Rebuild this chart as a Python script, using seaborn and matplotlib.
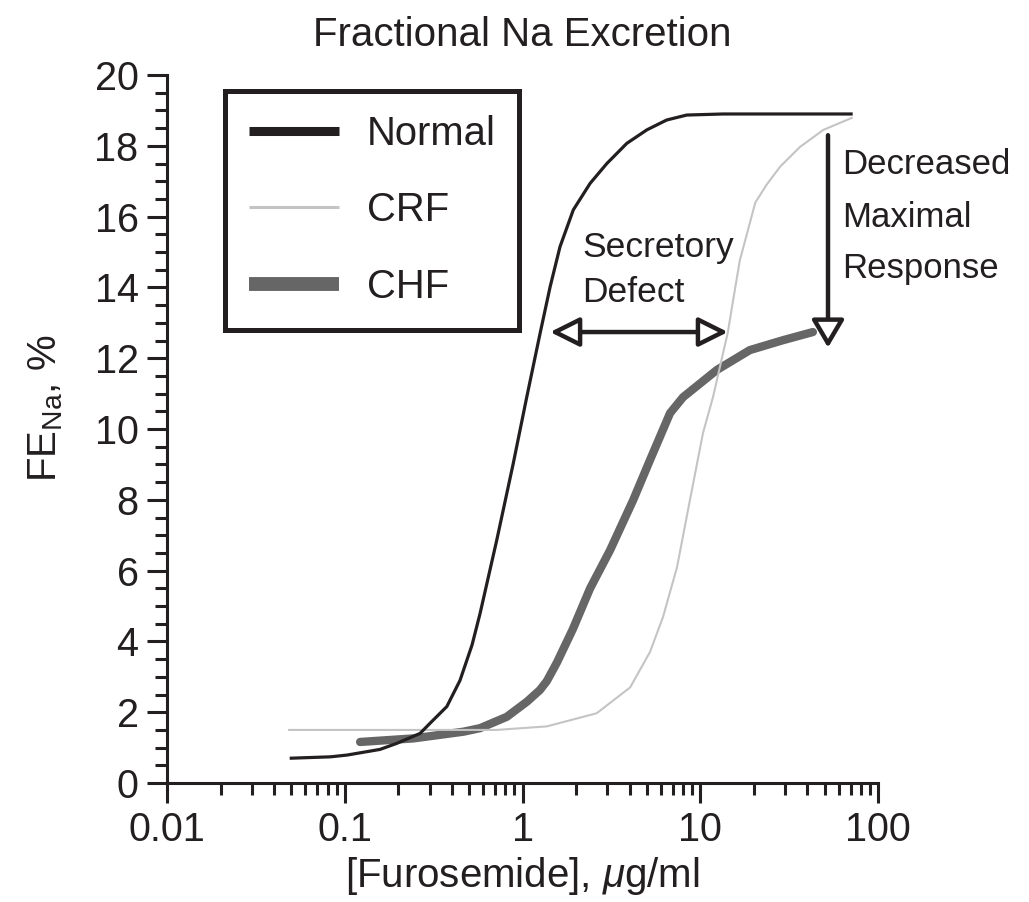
import matplotlib
matplotlib.use("Agg")
import matplotlib.pyplot as plt
from matplotlib.ticker import MultipleLocator, FixedLocator, LogLocator, NullFormatter
import pandas as pd
import seaborn as sns

# Furosemide concentration (ug/ml) vs fractional Na excretion (%)
normal_conc = [0.049, 0.083, 0.103, 0.158, 0.196, 0.265, 0.302, 0.375, 0.445, 0.52,
               0.577, 0.716, 0.887, 1.056, 1.255, 1.43, 1.625, 1.93, 2.40, 2.98,
               3.86, 5.0, 6.47, 8.39, 13.4, 72.0]
normal_fe = [0.70, 0.74, 0.79, 0.95, 1.12, 1.40, 1.69, 2.16, 2.90, 3.90,
             4.79, 6.86, 9.03, 10.90, 12.70, 14.02, 15.15, 16.19, 16.94, 17.50,
             18.07, 18.45, 18.73, 18.87, 18.90, 18.90]

crf_conc = [0.048, 0.25, 0.715, 1.37, 2.61, 4.03, 5.21, 6.17, 7.4, 8.75,
            10.36, 11.8, 12.9, 14.3, 15.3, 16.7, 20.4, 23.6, 28.1, 36.4,
            49.2, 72.0]
crf_fe = [1.50, 1.50, 1.50, 1.60, 1.97, 2.70, 3.70, 4.69, 6.10, 8.00,
          9.89, 10.91, 11.76, 12.74, 13.64, 14.77, 16.40, 16.90, 17.41, 17.97,
          18.45, 18.80]

chf_conc = [0.122, 0.243, 0.465, 0.577, 0.815, 1.06, 1.254, 1.37, 1.56, 1.92,
            2.40, 3.11, 4.19, 5.21, 6.76, 8.0, 12.4, 19.0, 29.2, 43.0]
chf_fe = [1.16, 1.26, 1.45, 1.55, 1.87, 2.30, 2.63, 2.88, 3.40, 4.35,
          5.50, 6.58, 7.99, 9.12, 10.45, 10.90, 11.67, 12.23, 12.51, 12.74]

series_names = ["Normal", "CRF", "CHF"]

# annotation anchors (data units)
secretory_y = 12.74
secretory_left = 1.43
secretory_right = 14.3
max_resp_x = 52.3
max_resp_top = 18.3
max_resp_tip = 12.3

df = pd.concat([
    pd.DataFrame({"conc": normal_conc, "fe": normal_fe, "group": "Normal"}),
    pd.DataFrame({"conc": crf_conc, "fe": crf_fe, "group": "CRF"}),
    pd.DataFrame({"conc": chf_conc, "fe": chf_fe, "group": "CHF"}),
], ignore_index=True)

sns.set_style("ticks")
plt.rcParams["font.family"] = ["Liberation Sans", "DejaVu Sans"]
plt.rcParams["mathtext.fontset"] = "custom"
plt.rcParams["mathtext.rm"] = "Liberation Sans"
plt.rcParams["mathtext.it"] = "Liberation Sans:italic"
plt.rcParams["mathtext.default"] = "regular"

INK = "#231f20"
styles = {
    "CHF": dict(color="#666666", linewidth=6.0, solid_capstyle="round",
                solid_joinstyle="round"),
    "CRF": dict(color="#c4c4c4", linewidth=1.5, solid_capstyle="butt",
                solid_joinstyle="round"),
    "Normal": dict(color=INK, linewidth=2.3, solid_capstyle="butt",
                   solid_joinstyle="round"),
}

fig = plt.figure(figsize=(10.29, 9.02), dpi=100)
ax = fig.add_axes([0.1623, 0.1319, 0.6910, 0.7849])

lines = {}
for name in ["CHF", "CRF", "Normal"]:
    sub = df[df["group"] == name]
    sns.lineplot(data=sub, x="conc", y="fe", ax=ax, estimator=None, sort=False,
                 label=name, **styles[name])
    lines[name] = ax.get_lines()[-1]

ax.set_xscale("log")
ax.set_xlim(0.01, 100)
ax.set_ylim(0, 20)

ax.xaxis.set_major_locator(FixedLocator([0.01, 0.1, 1, 10, 100]))
ax.set_xticklabels(["0.01", "0.1", "1", "10", "100"])
ax.xaxis.set_minor_locator(LogLocator(base=10, subs=range(2, 10), numticks=20))
ax.xaxis.set_minor_formatter(NullFormatter())
ax.yaxis.set_major_locator(MultipleLocator(2))
ax.yaxis.set_minor_locator(MultipleLocator(0.5))

for side in ["top", "right"]:
    ax.spines[side].set_visible(False)
for side in ["left", "bottom"]:
    ax.spines[side].set_linewidth(2.2)
    ax.spines[side].set_color(INK)

ax.tick_params(which="major", direction="out", length=14.5, width=2.2,
               color=INK, labelsize=28.5, pad=6, labelcolor=INK)
ax.tick_params(which="minor", direction="out", length=8.6, width=2.2, color=INK)

ax.set_title("Fractional Na Excretion", fontsize=29, pad=21, color=INK)
ax.set_xlabel("[Furosemide], $\\mathit{\\mu}$g/ml", fontsize=29, color=INK, labelpad=4)
ax.set_ylabel("FE$_{Na}$, %", fontsize=29, color=INK)
ax.yaxis.set_label_coords(-0.143, 0.53)

# legend ordered Normal, CRF, CHF with heavier handle strokes
handles = [lines[n] for n in series_names]
leg = ax.legend(handles, series_names, loc="upper left",
                bbox_to_anchor=(0.0809, 0.978), borderaxespad=0,
                fontsize=28.8, handlelength=2.25, handletextpad=0.7,
                labelspacing=0.97, borderpad=0.6, frameon=True,
                fancybox=False, framealpha=1)
leg.get_frame().set_edgecolor(INK)
leg.get_frame().set_linewidth(3.6)
for txt in leg.get_texts():
    txt.set_color(INK)
handle_widths = {"Normal": 6.5, "CRF": 2.2, "CHF": 10.0}
for ln, name in zip(leg.get_lines(), series_names):
    ln.set_linewidth(handle_widths[name])
    ln.set_solid_capstyle("butt")

# Secretory defect: horizontal double-headed arrow
ax.annotate("", xy=(secretory_left, secretory_y), xytext=(secretory_right, secretory_y),
            arrowprops=dict(arrowstyle="<|-|>,head_length=18,head_width=9",
                            mutation_scale=1, fc="white", ec=INK, lw=3.2,
                            shrinkA=0, shrinkB=0))
ax.text(2.16, 14.86, "Secretory", fontsize=25.5, color=INK, ha="left", va="baseline")
ax.text(2.16, 13.59, "Defect", fontsize=25.5, color=INK, ha="left", va="baseline")

# Decreased maximal response: vertical arrow
ax.annotate("", xy=(max_resp_x, max_resp_tip), xytext=(max_resp_x, max_resp_top),
            arrowprops=dict(arrowstyle="-|>,head_length=17,head_width=10",
                            mutation_scale=1, fc="white", ec=INK, lw=3.2,
                            shrinkA=0, shrinkB=0))
ax.text(62.7, 17.20, "Decreased", fontsize=25, color=INK, ha="left", va="baseline")
ax.text(62.7, 15.71, "Maximal", fontsize=25, color=INK, ha="left", va="baseline")
ax.text(62.7, 14.27, "Response", fontsize=25, color=INK, ha="left", va="baseline")

fig.savefig("out.png", dpi=100)
